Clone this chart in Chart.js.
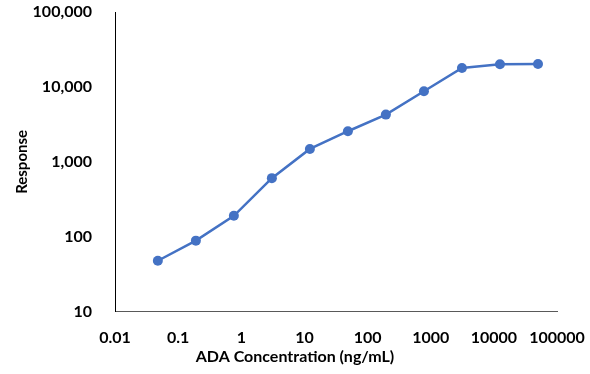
<!DOCTYPE html>
<html>
<head>
<meta charset="utf-8">
<script src="https://cdn.jsdelivr.net/npm/chart.js@4.4.0/dist/chart.umd.min.js"></script>
<style>
  html, body { margin: 0; padding: 0; background: #fff; }
  #wrap { width: 590px; height: 374px; position: relative; }
</style>
</head>
<body>
<div id="wrap"><canvas id="myChart"></canvas></div>
<script>
// ADA concentration (ng/mL), 4-fold dilutions
const concentrations = [0.0477, 0.191, 0.763, 3.05, 12.2, 48.8, 195, 781, 3125, 12500, 50000];
// response
const responses = [48, 89, 191, 607, 1490, 2565, 4275, 8770, 17920, 20100, 20270];

const xTicks = [0.01, 0.1, 1, 10, 100, 1000, 10000, 100000];
const xTickLabels = ['0.01', '0.1', '1', '10', '100', '1000', '10000', '100000'];
const yTicks = [10, 100, 1000, 10000, 100000];
const yTickLabels = ['10', '100', '1,000', '10,000', '100,000'];

const fontFamily = 'Lato, "Open Sans", sans-serif';

const data = {
    datasets: [{
        data: concentrations.map((c, i) => ({ x: c, y: responses[i] })),
        borderColor: '#4472C4',
        backgroundColor: '#4472C4',
        borderWidth: 2.5,
        pointRadius: 5,
        pointHoverRadius: 5,
        pointBorderWidth: 0,
        tension: 0
    }]
};

const config = {
    type: 'line',
    data: data,
    options: {
        responsive: true,
        maintainAspectRatio: false,
        animation: false,
        layout: {
            padding: { left: 0, right: 0, top: 12, bottom: 0 }
        },
        plugins: {
            legend: { display: false },
            tooltip: { enabled: false },
            // x title centred on the whole chart like the Excel original
            title: {
                display: true,
                position: 'bottom',
                text: 'ADA Concentration (ng/mL)',
                color: '#000',
                font: { family: fontFamily, size: 16, weight: 'bold' },
                padding: { top: 0, bottom: 8 }
            }
        },
        scales: {
            x: {
                type: 'logarithmic',
                position: 'bottom',
                min: 0.01,
                max: 100000,
                afterBuildTicks: (scale) => {
                    scale.ticks = xTicks.map(v => ({ value: v }));
                },
                afterFit: (scale) => {
                    scale.height = 35;
                    scale.paddingLeft = 0;
                    scale.paddingRight = 33;
                },
                grid: { display: false, drawTicks: false },
                border: { display: true, color: '#595959', width: 1 },
                ticks: {
                    autoSkip: false,
                    maxRotation: 0,
                    padding: 16,
                    color: '#000',
                    font: { family: fontFamily, size: 16, weight: 'bold' },
                    callback: (value, index) => xTickLabels[index]
                }
            },
            y: {
                type: 'logarithmic',
                position: 'left',
                min: 10,
                max: 100000,
                afterBuildTicks: (scale) => {
                    scale.ticks = yTicks.map(v => ({ value: v }));
                },
                afterFit: (scale) => {
                    scale.width = 115;
                    scale.paddingTop = 0;
                    scale.paddingBottom = 0;
                },
                grid: { display: false, drawTicks: false },
                border: { display: true, color: '#000', width: 1 },
                ticks: {
                    padding: 23,
                    color: '#000',
                    font: { family: fontFamily, size: 16, weight: 'bold' },
                    callback: (value, index) => yTickLabels[index]
                },
                title: {
                    display: true,
                    text: 'Response',
                    color: '#000',
                    font: { family: fontFamily, size: 15, weight: 'bold' },
                    padding: { top: 13, bottom: 0 }
                }
            }
        }
    }
};

const myChart = new Chart(document.getElementById('myChart'), config);
</script>
</body>
</html>
